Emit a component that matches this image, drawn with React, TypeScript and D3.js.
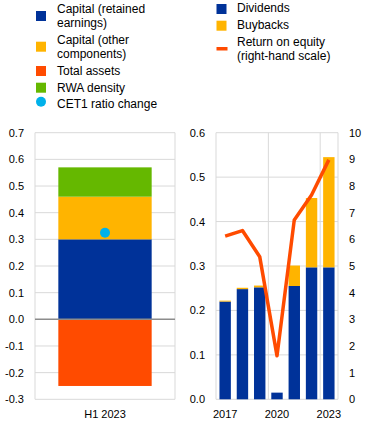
import React from "react";
import * as d3 from "d3";

// left panel: H1 2023 contributions
const leftCategory = ["H1 2023"];
const retainedEarnings = [0.30];
const otherComponents = [0.16];
const rwaDensity = [0.11];
const totalAssets = [-0.25];
const cet1Change = [0.325];
const leftTicks = [-0.3, -0.2, -0.1, 0.0, 0.1, 0.2, 0.3, 0.4, 0.5, 0.6, 0.7];

// right panel: payouts and ROE
const years = ["2017", "2018", "2019", "2020", "2021", "2022", "2023"];
const dividends = [0.22, 0.248, 0.252, 0.015, 0.255, 0.297, 0.297];
const buybacks = [0.002, 0.003, 0.004, 0, 0.046, 0.156, 0.248];
const roe = [6.12, 6.33, 5.35, 1.63, 6.73, 7.66, 8.98];
const rightTicks = [0, 0.1, 0.2, 0.3, 0.4, 0.5, 0.6];
const roeTicks = [0, 1, 2, 3, 4, 5, 6, 7, 8, 9, 10];
const yearLabels = ["2017", "2020", "2023"];

const BLUE = "#003299";
const YELLOW = "#FFB400";
const ORANGE = "#FF4B00";
const GREEN = "#65B800";
const CYAN = "#00B1EA";
const GRID = "#d9d9d9";
const FONT = "'Liberation Sans', Arial, sans-serif";

const top = 132.7;
const bottom = 399.3;

export default function App() {
  const xL = d3.scaleBand().domain(leftCategory).range([35, 175]).paddingInner(0).paddingOuter(0.25);
  const yL = d3.scaleLinear().domain([-0.3, 0.7]).range([bottom, top]);

  const xR = d3.scaleBand().domain(years).range([216, 338]).paddingInner(0.34).paddingOuter(0.2);
  const yR = d3.scaleLinear().domain([0, 0.6]).range([bottom, top]);
  const yRoe = d3.scaleLinear().domain([0, 10]).range([bottom, top]);

  const roeLine = d3
    .line<number>()
    .x((_, i) => (xR(years[i]) as number) + xR.bandwidth() / 2)
    .y((d) => yRoe(d));

  const gap = xR.step() - xR.bandwidth();

  const leftLegend = [
    { lines: ["Capital (retained", "earnings)"], color: BLUE, y: 11, base: 12.7 },
    { lines: ["Capital (other", "components)"], color: YELLOW, y: 41.7, base: 44 },
    { lines: ["Total assets"], color: ORANGE, y: 66, base: 74.7 },
    { lines: ["RWA density"], color: GREEN, y: 82.7, base: 91.7 },
  ];
  const rightLegend = [
    { lines: ["Dividends"], color: BLUE, y: 4, base: 12.3 },
    { lines: ["Buybacks"], color: YELLOW, y: 20.7, base: 29.3 },
  ];

  return (
    <svg width={372} height={428} style={{ position: "absolute", left: 0, top: 0 }} fontFamily={FONT}>
      <rect width={372} height={428} fill="#fff" />

      {/* legend left */}
      {leftLegend.map((d) => (
        <g key={d.lines[0]}>
          <rect x={36} y={d.y} width={10} height={10} fill={d.color} />
          {d.lines.map((l, i) => (
            <text key={l} x={57} y={d.base + i * 14} fontSize={12}>
              {l}
            </text>
          ))}
        </g>
      ))}
      <circle cx={41} cy={101.7} r={5} fill={CYAN} />
      <text x={57} y={107.7} fontSize={12}>CET1 ratio change</text>

      {/* legend right */}
      {rightLegend.map((d) => (
        <g key={d.lines[0]}>
          <rect x={216.5} y={d.y} width={10} height={10} fill={d.color} />
          <text x={237} y={d.base} fontSize={12}>{d.lines[0]}</text>
        </g>
      ))}
      <rect x={216.5} y={47} width={11} height={3.5} fill={ORANGE} />
      <text x={237} y={46} fontSize={12}>Return on equity</text>
      <text x={237} y={60} fontSize={12}>(right-hand scale)</text>

      {/* left panel */}
      {leftTicks.map((t) => (
        <g key={t}>
          {t !== 0 && <line x1={35} x2={175} y1={yL(t)} y2={yL(t)} stroke={GRID} />}
          <text x={24} y={yL(t) + 4} fontSize={11} textAnchor="end">
            {t.toFixed(1)}
          </text>
        </g>
      ))}
      <line x1={35} x2={35} y1={top} y2={bottom} stroke={GRID} />
      <line x1={175} x2={175} y1={top} y2={bottom} stroke={GRID} />
      {leftCategory.map((c, i) => {
        const x = xL(c) as number;
        const w = xL.bandwidth();
        const s1 = retainedEarnings[i];
        const s2 = s1 + otherComponents[i];
        const s3 = s2 + rwaDensity[i];
        return (
          <g key={c}>
            <rect x={x} y={yL(s1)} width={w} height={yL(0) - yL(s1)} fill={BLUE} />
            <rect x={x} y={yL(s2)} width={w} height={yL(s1) - yL(s2)} fill={YELLOW} />
            <rect x={x} y={yL(s3)} width={w} height={yL(s2) - yL(s3)} fill={GREEN} />
            <rect x={x} y={yL(0)} width={w} height={yL(totalAssets[i]) - yL(0)} fill={ORANGE} />
            <circle cx={x + w / 2} cy={yL(cet1Change[i])} r={5} fill={CYAN} />
            <text x={x + w / 2} y={417.5} fontSize={11} textAnchor="middle">{c}</text>
          </g>
        );
      })}
      <line x1={35} x2={175} y1={yL(0)} y2={yL(0)} stroke="#8c8c8c" strokeWidth={1.5} />

      {/* right panel */}
      {rightTicks.map((t) => (
        <g key={t}>
          <line x1={216} x2={338} y1={yR(t)} y2={yR(t)} stroke={GRID} />
          <text x={205} y={yR(t) + 4} fontSize={11} textAnchor="end">
            {t.toFixed(1)}
          </text>
        </g>
      ))}
      {roeTicks.map((t) => (
        <text key={t} x={349} y={yRoe(t) + 4} fontSize={11}>
          {t}
        </text>
      ))}
      <line x1={216} x2={216} y1={top} y2={bottom} stroke={GRID} />
      <line x1={338} x2={338} y1={top} y2={bottom} stroke={GRID} />
      {["2020", "2023"].map((y) => (
        <line
          key={y}
          x1={(xR(y) as number) - gap / 2}
          x2={(xR(y) as number) - gap / 2}
          y1={top}
          y2={bottom}
          stroke={GRID}
        />
      ))}
      {years.map((y, i) => {
        const x = xR(y) as number;
        const w = xR.bandwidth();
        const s1 = dividends[i];
        const s2 = s1 + buybacks[i];
        return (
          <g key={y}>
            <rect x={x} y={yR(s1)} width={w} height={yR(0) - yR(s1)} fill={BLUE} />
            {buybacks[i] > 0 && (
              <rect x={x} y={yR(s2)} width={w} height={yR(s1) - yR(s2)} fill={YELLOW} />
            )}
          </g>
        );
      })}
      <path d={roeLine(roe) ?? ""} fill="none" stroke={ORANGE} strokeWidth={3.5} strokeLinejoin="round" />
      {yearLabels.map((y) => (
        <text
          key={y}
          x={(xR(y) as number) + xR.bandwidth() / 2}
          y={417.5}
          fontSize={11}
          textAnchor="middle"
        >
          {y}
        </text>
      ))}
    </svg>
  );
}
